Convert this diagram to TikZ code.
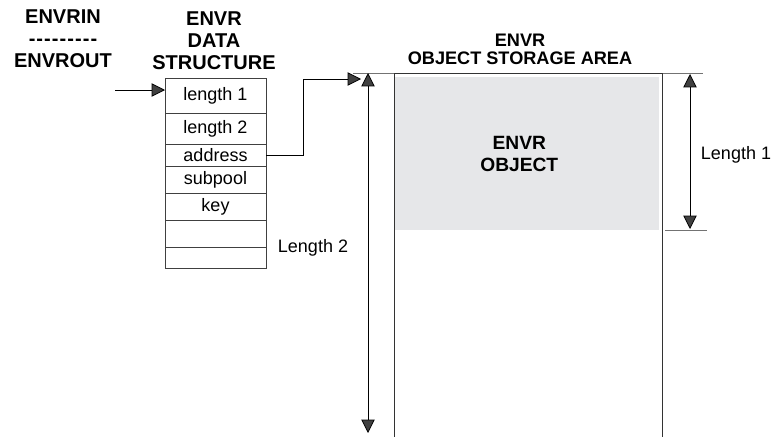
\documentclass[tikz,border=0pt]{standalone}
\usepackage{fontspec}
\setmainfont{Liberation Sans}
\usetikzlibrary{arrows.meta}
\usetikzlibrary{positioning}
\tikzset{arr/.style = {line width=0.6pt, -{Triangle[length=10pt, width=10pt, fill=black!75]}}}
\tikzset{dim/.style = {line width=0.6pt, {Triangle[length=10pt, width=10pt, fill=black!75]}-{Triangle[length=10pt, width=10pt, fill=black!75]}}}
\tikzset{ext/.style = {draw=black!55, line width=0.6pt}}
\tikzset{hdr/.style = {align=center, inner sep=0, font=\bfseries\fontsize{15}{16.5}\selectfont}}
\tikzset{lab/.style = {inner sep=0, font=\fontsize{13.5}{16}\selectfont}}
\tikzset{row/.style = {draw=black!75, line width=0.6pt, minimum width=75.75pt, inner sep=0, outer sep=0,
                       font=\fontsize{13.5}{16}\selectfont}}
\definecolor{mgray}{RGB}{230, 231, 233}
\newcommand{\dashrow}{-\kern0.8pt-\kern0.8pt-\kern0.8pt-\kern0.8pt-\kern0.8pt-\kern0.8pt-\kern0.8pt-\kern0.8pt-}
\begin{document}
\begin{tikzpicture}[x=0.75pt, y=-0.75pt]
      \useasboundingbox (0, 0) rectangle (774, 436);

      \node [hdr] (inout) at (63, 39) {ENVRIN\\\dashrow\\ENVROUT};
      \node [hdr] (dshdr) at (214, 41) {ENVR\\DATA\\STRUCTURE};
      \node [hdr, font=\bfseries\fontsize{13.6}{13.5}\selectfont] (sahdr) at (520, 49) {ENVR\\OBJECT STORAGE AREA};

      \node [row, minimum height=26.25pt, anchor=north] (len1) at (215.5, 78) {length 1};
      \node [row, minimum height=23.25pt, below=0pt of len1] (len2) {length 2};
      \node [row, minimum height=16.5pt, below=0pt of len2] (addr) {address};
      \node [row, minimum height=20.25pt, below=0pt of addr] (subp) {subpool};
      \node [row, minimum height=20.25pt, below=0pt of subp] (key) {key};
      \node [row, minimum height=20.25pt, below=0pt of key] (emp1) {};
      \node [row, minimum height=15.75pt, below=0pt of emp1] (emp2) {};

      \node [anchor=north west, minimum width=201pt, minimum height=272.25pt, inner sep=0] (area) at (394, 73) {};
      \draw [draw=black!80, line width=0.6pt] (area.south west) -- (area.north west) -- (area.north east) -- (area.south east);
      \node [anchor=north west, fill=mgray, minimum width=198pt, minimum height=114.75pt, inner sep=0,
             align=center, font=\bfseries\fontsize{14.4}{16.5}\selectfont] (obj) at (395, 77)
            {ENVR\hspace*{12pt}\\OBJECT\hspace*{12pt}};

      \coordinate (inp) at (115, 90);
      \coordinate (ptr) at (361, 79);
      \draw [arr] (inp) -- (inp -| len1.west);
      \draw [arr] (addr.east) -- ++(37, 0) |- (ptr);

      \draw [ext] (area.north west) -- ++(-41, 0);
      \coordinate (l2top) at (368, 73);
      \coordinate (l2bot) at (368, 433);
      \draw [dim] (l2top) -- (l2bot);
      \node [lab] (l2lab) at (313, 248) {Length 2};

      \draw [ext] (area.north east) -- ++(40, 0);
      \coordinate (l1end) at (665, 230);
      \draw [ext] (l1end) -- ++(42, 0);
      \coordinate (l1top) at (690, 74);
      \coordinate (l1bot) at (690, 229);
      \draw [dim] (l1top) -- (l1bot);
      \node [lab] (l1lab) at (736, 155) {Length 1};
    \end{tikzpicture}
\end{document}
